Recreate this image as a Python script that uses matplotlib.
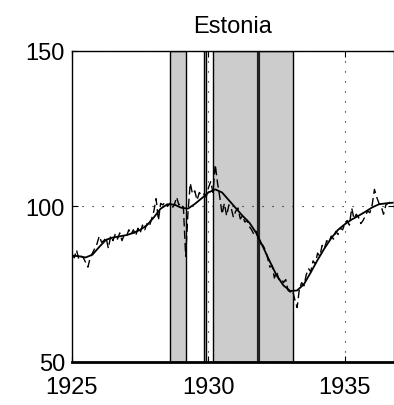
import numpy as np
import matplotlib.pyplot as plt

plt.rcParams['font.family'] = ['Liberation Sans', 'DejaVu Sans']

# monthly index, Jan 1925 .. Oct 1936
raw_1925 = [84.5, 83.5, 86.0, 83.0, 84.0, 83.5, 82.0, 80.5, 83.5, 85.0, 86.5, 88.0]
raw_1926 = [90.5, 88.5, 89.0, 90.0, 86.5, 90.5, 89.0, 91.0, 89.5, 91.5, 89.0, 91.0]
raw_1927 = [90.5, 92.5, 91.0, 92.5, 90.5, 93.0, 91.5, 94.0, 92.5, 94.5, 93.5, 96.0]
raw_1928 = [98.5, 102.5, 95.5, 101.0, 100.5, 101.5, 100.0, 101.0, 99.5, 100.5, 103.0, 100.5]
raw_1929 = [101.0, 99.5, 84.0, 98.0, 107.5, 104.0, 105.0, 102.0, 104.5, 103.5, 104.0, 103.0]
raw_1930 = [106.0, 108.0, 104.5, 113.5, 107.5, 103.0, 97.5, 101.0, 97.0, 100.5, 99.5, 96.5]
raw_1931 = [98.5, 99.5, 96.0, 97.0, 95.0, 95.5, 93.5, 92.5, 91.0, 92.0, 89.5, 88.0]
raw_1932 = [87.5, 86.0, 83.5, 80.5, 81.0, 77.0, 79.0, 76.5, 77.0, 75.5, 76.5, 73.0]
raw_1933 = [72.5, 73.0, 70.0, 67.5, 73.5, 75.5, 74.5, 78.0, 80.0, 79.0, 82.5, 81.5]
raw_1934 = [85.0, 84.0, 87.5, 86.5, 89.0, 88.5, 90.5, 89.5, 92.0, 91.0, 93.0, 92.5]
raw_1935 = [94.5, 95.5, 94.0, 99.5, 96.0, 97.5, 96.5, 94.5, 95.5, 97.0, 98.5, 98.0]
raw_1936 = [100.5, 105.5, 103.0, 101.0, 100.0, 97.5, 100.5, 101.0, 101.5, 101.0]

raw = (raw_1925 + raw_1926 + raw_1927 + raw_1928 + raw_1929 + raw_1930 +
       raw_1931 + raw_1932 + raw_1933 + raw_1934 + raw_1935 + raw_1936)
t_raw = 1925 + np.arange(len(raw)) / 12.0

# quarterly trend
trend = [84.2, 84.0, 83.6, 84.5, 87.0, 89.3, 90.0, 90.4,
         90.8, 91.5, 92.5, 94.0, 96.5, 99.3, 100.7, 100.6,
         99.6, 99.3, 100.8, 102.6, 104.5, 105.5, 104.5, 102.0,
         99.5, 97.0, 94.8, 91.5, 87.0, 82.3, 77.8, 74.6,
         72.8, 73.0, 75.0, 78.8, 82.8, 86.5, 89.8, 92.5,
         94.3, 95.8, 97.0, 98.3, 99.7, 100.7, 101.0, 101.2]
t_trend = 1925 + np.arange(len(trend)) / 4.0

# shaded periods and marker line
bands = [(1928.59, 1929.18), (1929.84, 1929.92), (1930.15, 1933.10)]
mark = 1931.80

fig = plt.figure(figsize=(3.94, 4.06), dpi=100)
ax = fig.add_axes([0.1827, 0.106, 0.8173, 0.766])

for a, b in bands:
    ax.axvspan(a, b, facecolor='#cccccc', edgecolor='black', linewidth=1.0, zorder=1)
ax.axvline(mark, color='#222222', linewidth=2.3, zorder=2)

ax.plot(t_raw, raw, color='black', linewidth=1.0, linestyle=(0, (6, 3)), zorder=4)
ax.plot(t_trend, trend, color='black', linewidth=1.3, zorder=5)

ax.set_xlim(1925, 1936.8)
ax.set_ylim(50, 150)
ax.set_xticks([1925, 1930, 1935])
ax.set_yticks([50, 100, 150])
ax.grid(True, linestyle=(0, (1, 8)), color='black', linewidth=0.8, zorder=3)
ax.set_axisbelow(False)
ax.tick_params(direction='in', length=4, labelsize=17, top=True, right=True)
ax.tick_params(axis='x', pad=10)
ax.tick_params(axis='y', pad=5)
for s in ax.spines.values():
    s.set_linewidth(1.0)
ax.spines['bottom'].set_linewidth(2.0)
ax.set_title('Estonia', fontsize=17, pad=14)

fig.savefig('out.png', dpi=100)
